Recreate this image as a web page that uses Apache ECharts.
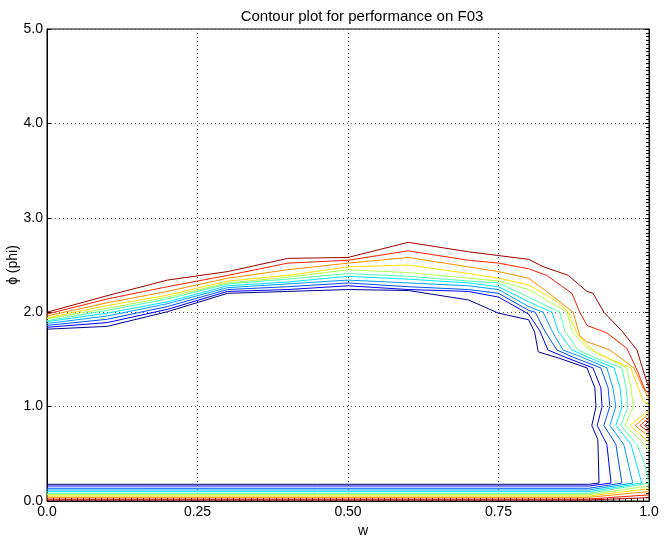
<!DOCTYPE html>
<html>
<head>
<meta charset="utf-8">
<script src="https://cdn.jsdelivr.net/npm/echarts@6/dist/echarts.min.js"></script>
<style>html,body{margin:0;padding:0;background:#fff}#c{width:668px;height:539px}</style>
</head>
<body>
<div id="c"></div>
<script>
const titleText = 'Contour plot for performance on F03';
const xName = 'w';
const yName = '\u03d5 (phi)';
const xTickLabels = ['0.0', '0.25', '0.50', '0.75', '1.0'];
const yTickLabels = ['0.0', '1.0', '2.0', '3.0', '4.0', '5.0'];
const levelColors = ['#000090', '#0000ff', '#0050ff', '#00a0ff', '#00e8ff', '#50ffb0', '#b0ff50', '#ffe000', '#ff9000', '#ff2000', '#a00000'];

const lvl0 = [[0,1.82],[0.1,1.85],[0.2,2.005],[0.3,2.20],[0.4,2.22],[0.5,2.24],[0.6,2.23],[0.7,2.13],[0.75,1.99],[0.8,1.92],[0.81,1.79],[0.816,1.58],[0.852,1.51],[0.897,1.41],[0.91,1.2],[0.912,1.0],[0.905,0.8],[0.915,0.65],[0.917,0.19],[0.9,0.177],[0,0.177]];
const lvl1 = [[0,1.84],[0.1,1.89],[0.2,2.03],[0.3,2.22],[0.4,2.24],[0.5,2.28],[0.6,2.24],[0.7,2.22],[0.75,2.16],[0.8,1.98],[0.819,1.8],[0.832,1.6],[0.862,1.52],[0.907,1.41],[0.92,1.2],[0.922,1.0],[0.914,0.8],[0.93,0.6],[0.937,0.19],[0.9,0.159],[0,0.159]];
const lvl2 = [[0,1.86],[0.1,1.925],[0.2,2.06],[0.3,2.24],[0.4,2.27],[0.5,2.31],[0.6,2.27],[0.7,2.24],[0.75,2.20],[0.8,2.02],[0.811,2.0],[0.827,1.8],[0.847,1.6],[0.875,1.52],[0.92,1.41],[0.932,1.2],[0.935,1.0],[0.925,0.8],[0.945,0.6],[0.955,0.19],[0.9,0.135],[0,0.135]];
const lvl3 = [[0,1.88],[0.1,1.96],[0.2,2.09],[0.3,2.26],[0.4,2.30],[0.5,2.34],[0.6,2.31],[0.7,2.28],[0.75,2.24],[0.8,2.06],[0.824,2.0],[0.839,1.8],[0.857,1.6],[0.89,1.52],[0.93,1.41],[0.94,1.2],[0.945,1.0],[0.935,0.8],[0.958,0.6],[0.973,0.19],[0.9,0.117],[0,0.117]];
const lvl4 = [[0,1.90],[0.1,1.99],[0.2,2.11],[0.3,2.28],[0.4,2.32],[0.5,2.38],[0.6,2.35],[0.7,2.31],[0.75,2.27],[0.8,2.11],[0.839,2.0],[0.849,1.8],[0.872,1.6],[0.9,1.52],[0.942,1.41],[0.952,1.2],[0.955,1.0],[0.945,0.8],[0.97,0.6],[0.988,0.19],[0.9,0.099],[0,0.099]];
const lvl5 = [[0,1.91],[0.1,2.02],[0.2,2.14],[0.3,2.30],[0.4,2.35],[0.5,2.41],[0.6,2.38],[0.7,2.33],[0.75,2.31],[0.8,2.16],[0.852,2.0],[0.86,1.8],[0.882,1.6],[0.91,1.52],[0.955,1.41],[0.962,1.2],[0.965,1.0],[0.953,0.8],[0.98,0.6],[0.992,0.4],[1.0,0.19],[0.9,0.081],[0,0.081]];
const lvl6 = [[0,1.93],[0.1,2.04],[0.2,2.16],[0.3,2.31],[0.4,2.37],[0.5,2.45],[0.6,2.42],[0.7,2.36],[0.75,2.33],[0.8,2.24],[0.864,2.0],[0.872,1.8],[0.897,1.62],[0.93,1.52],[0.963,1.41],[0.97,1.2],[0.974,1.0],[0.96,0.8],[0.985,0.65],[1.0,0.54],null,[1.0,0.16],[0.9,0.067],[0,0.067]];
const lvl7 = [[0,1.94],[0.1,2.07],[0.2,2.18],[0.3,2.33],[0.4,2.39],[0.5,2.48],[0.6,2.50],[0.7,2.41],[0.75,2.36],[0.8,2.29],[0.819,2.22],[0.847,2.11],[0.866,2.0],[0.88,1.78],[0.897,1.65],[0.918,1.55],[0.97,1.41],[0.982,1.2],[0.99,1.06],[1.0,1.02],null,[1.0,0.96],[0.968,0.8],[0.99,0.68],[1.0,0.62],null,[1.0,0.13],[0.9,0.053],[0,0.053]];
const lvl8 = [[0,1.96],[0.1,2.10],[0.2,2.22],[0.3,2.36],[0.4,2.45],[0.5,2.52],[0.6,2.58],[0.7,2.48],[0.75,2.43],[0.8,2.36],[0.83,2.22],[0.874,2.0],[0.885,1.75],[0.896,1.69],[0.935,1.6],[0.975,1.41],[0.99,1.2],[1.0,1.08],null,[1.0,0.92],[0.977,0.8],[1.0,0.68],null,[1.0,0.10],[0.9,0.039],[0,0.039]];
const lvl9 = [[0,1.98],[0.1,2.14],[0.2,2.27],[0.3,2.39],[0.4,2.52],[0.5,2.55],[0.6,2.65],[0.7,2.55],[0.75,2.52],[0.8,2.46],[0.83,2.39],[0.872,2.20],[0.885,2.0],[0.897,1.86],[0.93,1.78],[0.963,1.62],[0.98,1.39],[0.993,1.18],[1.0,1.14],null,[1.0,0.88],[0.985,0.8],[1.0,0.73],null,[1.0,0.065],[0.9,0.021],[0,0.021]];
const lvl10 = [[0,2.0],[0.1,2.175],[0.2,2.34],[0.3,2.43],[0.4,2.57],[0.5,2.58],[0.6,2.74],[0.7,2.64],[0.75,2.60],[0.8,2.56],[0.825,2.48],[0.866,2.39],[0.897,2.22],[0.907,2.20],[0.925,2.0],[0.955,1.8],[0.98,1.6],[0.99,1.39],[0.997,1.25],[1.0,1.2],null,[1.0,0.85],[0.993,0.8],[1.0,0.76],null,[1.0,0.035],[0.9,0.011],[0,0.011]];

const levels = [lvl0, lvl1, lvl2, lvl3, lvl4, lvl5, lvl6, lvl7, lvl8, lvl9, lvl10];

const series = [];
levels.forEach((pts, i) => {
  let seg = [];
  const flush = () => {
    if (seg.length) {
      series.push({
        type: 'line', data: seg, showSymbol: false, symbol: 'none', silent: true,
        lineStyle: { color: levelColors[i], width: 1 }, clip: true, z: 3
      });
    }
    seg = [];
  };
  pts.forEach(p => { if (p === null) flush(); else seg.push(p); });
  flush();
});

const FONT = 'Liberation Sans, Arial, Helvetica, sans-serif';
const chart = echarts.init(document.getElementById('c'), null, { renderer: 'canvas' });
chart.setOption({
  animation: false,
  backgroundColor: '#fff',
  title: {
    text: titleText, left: 357, top: 4, textAlign: 'center',
    textStyle: { fontFamily: FONT, fontSize: 15, fontWeight: 'normal', color: '#000' }
  },
  graphic: [{
    type: 'text', x: 13, y: 265, rotation: Math.PI / 2,
    style: { text: yName, x: 0, y: 0, align: 'center', verticalAlign: 'middle', textAlign: 'center', textVerticalAlign: 'middle', font: '14px ' + FONT, fill: '#000' }
  }],
  grid: { left: 47, right: 19, top: 29, bottom: 38, containLabel: false, outerBoundsMode: 'none', show: true, borderColor: '#000', borderWidth: 1, backgroundColor: 'transparent' },
  xAxis: [{
    type: 'value', min: 0, max: 1, interval: 0.25, position: 'bottom',
    axisLine: { show: true, onZero: false, lineStyle: { color: '#000', width: 1 } },
    axisTick: { show: true, inside: true, length: 4, lineStyle: { color: '#000' } },
    minorTick: { show: true, splitNumber: 25, length: 3, lineStyle: { color: '#000' } },
    axisLabel: { margin: 4, fontFamily: FONT, fontSize: 14, color: '#000', formatter: (v) => xTickLabels[Math.round(v / 0.25)] },
    splitLine: { show: true, lineStyle: { color: '#555', type: [1, 3], width: 1 } },
    name: xName, nameLocation: 'middle', nameGap: 23,
    nameTextStyle: { fontFamily: FONT, fontSize: 14, color: '#000', padding: [0, 0, 0, 30] }
  }],
  yAxis: [{
    type: 'value', min: 0, max: 5, interval: 1, position: 'left',
    axisLine: { show: true, onZero: false, lineStyle: { color: '#000', width: 1 } },
    axisTick: { show: true, inside: true, length: 4, lineStyle: { color: '#000' } },
    axisLabel: { margin: 4, fontFamily: FONT, fontSize: 14, color: '#000', formatter: (v) => yTickLabels[Math.round(v)] },
    splitLine: { show: true, lineStyle: { color: '#555', type: [1, 3], width: 1 } }
  }, {
    type: 'value', min: 0, max: 5, interval: 1, position: 'right',
    axisLine: { show: true, onZero: false, lineStyle: { color: '#000', width: 1 } },
    axisTick: { show: true, inside: true, length: 4, lineStyle: { color: '#000' } },
    minorTick: { show: true, splitNumber: 25, length: 3, lineStyle: { color: '#000' } },
    axisLabel: { show: false }, splitLine: { show: false }
  }],
  series: series
});
</script>
</body>
</html>
